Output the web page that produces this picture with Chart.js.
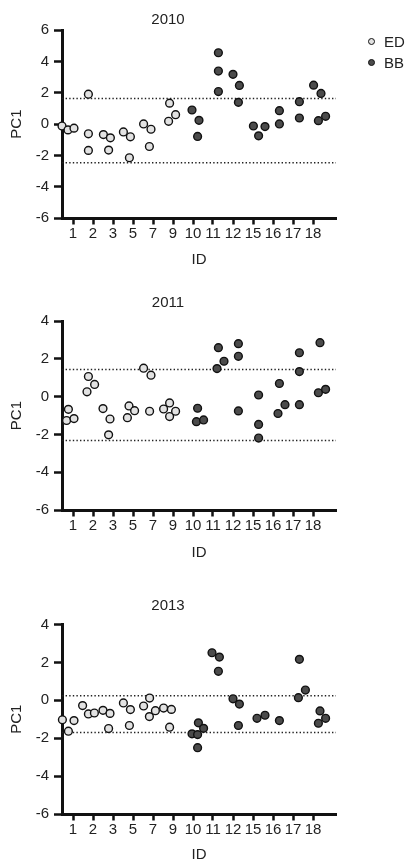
<!DOCTYPE html>
<html>
<head>
<meta charset="utf-8">
<script src="https://cdn.jsdelivr.net/npm/chart.js@4"></script>
<style>
  body { margin: 0; background: #fff; font-family: 'Liberation Sans', Arial, sans-serif; }
  .panel { position: absolute; left: 0; }
  .item { position: absolute; left: 368px; height: 20px; line-height: 20px; font-size: 15px; color: #222; white-space: nowrap; }
  .dot { position: absolute; left: 0; top: 6px; width: 5px; height: 5px; border: 1.4px solid #111; border-radius: 50%; }
  .item span.txt { position: absolute; left: 16px; top: 0; }
</style>
</head>
<body>
<div class="panel" style="top:0px"><canvas id="c2010" width="407" height="290"></canvas></div>
<div class="panel" style="top:290px"><canvas id="c2011" width="407" height="290"></canvas></div>
<div class="panel" style="top:580px"><canvas id="c2013" width="407" height="284"></canvas></div>
<div id="legend"></div>
<script>
const idLabels = ['1', '2', '3', '5', '7', '9', '10', '11', '12', '15', '16', '17', '18'];
const groups = ['ED', 'BB'];
const groupColors = ['#e2e2e2', '#4b4b4b'];

// 2010 (x = position along ID axis, jittered)
const ed2010X = [-0.55, -0.25, 0.05, 0.77, 0.77, 0.77, 1.52, 1.87, 1.78, 2.52, 2.87, 2.82, 3.53, 3.9, 3.82, 4.83, 5.13, 4.78];
const ed2010Y = [-0.12, -0.37, -0.26, 1.91, -0.62, -1.68, -0.67, -0.88, -1.66, -0.5, -0.81, -2.15, 0.01, -0.33, -1.43, 1.34, 0.6, 0.18];
const bb2010X = [5.95, 6.3, 6.23, 7.27, 7.27, 7.27, 8.0, 8.32, 8.27, 9.02, 9.28, 9.6, 10.32, 10.32, 11.32, 11.32, 12.03, 12.4, 12.27, 12.63];
const bb2010Y = [0.9, 0.24, -0.79, 4.56, 3.39, 2.08, 3.18, 2.47, 1.39, -0.12, -0.75, -0.16, 0.86, 0.01, 1.43, 0.39, 2.49, 1.96, 0.22, 0.5];
const cut2010 = [1.64, -2.47];

// 2011
const ed2011X = [-0.23, -0.32, 0.05, 0.77, 1.08, 0.7, 1.5, 1.85, 1.78, 2.8, 2.72, 3.08, 3.53, 3.9, 3.83, 4.53, 4.83, 4.83, 5.13];
const ed2011Y = [-0.67, -1.26, -1.16, 1.07, 0.65, 0.26, -0.63, -1.18, -2.02, -0.49, -1.11, -0.74, 1.51, 1.14, -0.77, -0.65, -0.33, -1.05, -0.77];
const bb2011X = [6.23, 6.17, 6.53, 7.27, 7.2, 7.55, 8.27, 8.27, 8.27, 9.28, 9.28, 9.28, 10.32, 10.25, 10.6, 11.32, 11.32, 11.32, 12.35, 12.27, 12.63];
const bb2011Y = [-0.61, -1.32, -1.23, 2.6, 1.49, 1.88, 2.81, 2.14, -0.75, 0.09, -1.47, -2.19, 0.7, -0.89, -0.42, 2.33, 1.33, -0.42, 2.86, 0.21, 0.39];
const cut2011 = [1.44, -2.32];

// 2013
const ed2013X = [-0.53, -0.23, 0.05, 0.48, 0.77, 1.07, 1.5, 1.85, 1.78, 2.52, 2.87, 2.82, 3.53, 3.83, 3.82, 4.12, 4.53, 4.92, 4.83];
const ed2013Y = [-1.03, -1.63, -1.07, -0.28, -0.72, -0.67, -0.53, -0.69, -1.49, -0.14, -0.49, -1.33, -0.3, 0.12, -0.86, -0.55, -0.41, -0.48, -1.42];
const bb2013X = [5.95, 6.27, 6.23, 6.23, 6.53, 6.95, 7.32, 7.27, 8.0, 8.32, 8.27, 9.2, 9.6, 10.32, 11.32, 11.27, 11.62, 12.35, 12.27, 12.63];
const bb2013Y = [-1.77, -1.19, -1.81, -2.5, -1.48, 2.51, 2.28, 1.53, 0.08, -0.2, -1.33, -0.95, -0.79, -1.07, 2.16, 0.14, 0.54, -0.56, -1.21, -0.95];
const cut2013 = [0.24, -1.7];

Chart.defaults.font.family = "'Liberation Sans', Arial, sans-serif";
Chart.defaults.color = '#222';

const xMin = -0.55, xMax = 13.15;

function pts(xs, ys) {
    return xs.map((x, i) => ({ x: x, y: ys[i] }));
}

function groupSet(i, xs, ys) {
    return {
        type: 'scatter',
        label: groups[i],
        data: pts(xs, ys),
        backgroundColor: groupColors[i],
        borderColor: '#111',
        borderWidth: 1.4,
        pointRadius: 3.9,
        clip: false,
        order: 1
    };
}

function makePanel(id, year, edX, edY, bbX, bbY, cuts, yMax, lay) {
    const datasets = [groupSet(0, edX, edY), groupSet(1, bbX, bbY)];
    cuts.forEach(c => {
        datasets.push({
            type: 'line',
            data: [{ x: xMin, y: c }, { x: xMax, y: c }],
            borderColor: '#222',
            borderWidth: 1.4,
            borderDash: [1.4, 2.2],
            pointRadius: 0,
            order: 2
        });
    });

    return new Chart(document.getElementById(id), {
        type: 'scatter',
        data: { datasets },
        options: {
            responsive: false,
            animation: false,
            layout: { padding: { left: 0, right: 71, top: 0, bottom: 0 } },
            plugins: {
                legend: { display: false },
                tooltip: { enabled: false },
                title: {
                    display: true,
                    text: year,
                    color: '#222',
                    font: { size: 15, weight: 'normal' },
                    padding: { top: lay.tTop, bottom: lay.tBot }
                }
            },
            scales: {
                x: {
                    type: 'linear',
                    min: xMin,
                    max: xMax,
                    afterBuildTicks: s => { s.ticks = idLabels.map((l, i) => ({ value: i })); },
                    afterFit: s => { s.height = lay.xh; },
                    ticks: { autoSkip: false, maxRotation: 0, padding: lay.xPad, font: { size: 15 }, callback: v => idLabels[v] },
                    grid: { drawOnChartArea: false, tickLength: 6.5, tickWidth: 2.5, tickColor: '#111' },
                    border: { width: 3, color: '#111' },
                    title: { display: true, text: 'ID', font: { size: 15 }, padding: { top: 0, bottom: lay.idBot } }
                },
                y: {
                    min: -6,
                    max: yMax,
                    afterFit: s => { s.width = 62; },
                    ticks: { stepSize: 2, padding: 5, font: { size: 15 } },
                    grid: { drawOnChartArea: false, tickLength: 8, tickWidth: 2.5, tickColor: '#111' },
                    border: { width: 3, color: '#111' },
                    title: { display: true, text: 'PC1', font: { size: 15 }, padding: { top: 8, bottom: 0 } }
                }
            }
        }
    });
}

makePanel('c2010', '2010', ed2010X, ed2010Y, bb2010X, bb2010Y, cut2010, 6, { tTop: 10.6, tBot: 1.6, xh: 72, xPad: 0, idBot: 21 });
makePanel('c2011', '2011', ed2011X, ed2011Y, bb2011X, bb2011Y, cut2011, 4, { tTop: 3.6, tBot: 9.6, xh: 70, xPad: 0, idBot: 18 });
makePanel('c2013', '2013', ed2013X, ed2013Y, bb2013X, bb2013Y, cut2013, 4, { tTop: 16.6, tBot: 9.9, xh: 50, xPad: 0, idBot: 0 });

// legend, top right of the first panel
const legend = document.getElementById('legend');
groups.forEach((g, i) => {
    const item = document.createElement('div');
    item.className = 'item';
    item.style.top = (32 + i * 21) + 'px';
    item.innerHTML = '<span class="dot" style="background:' + groupColors[i] + '"></span><span class="txt">' + g + '</span>';
    legend.appendChild(item);
});
</script>
</body>
</html>
